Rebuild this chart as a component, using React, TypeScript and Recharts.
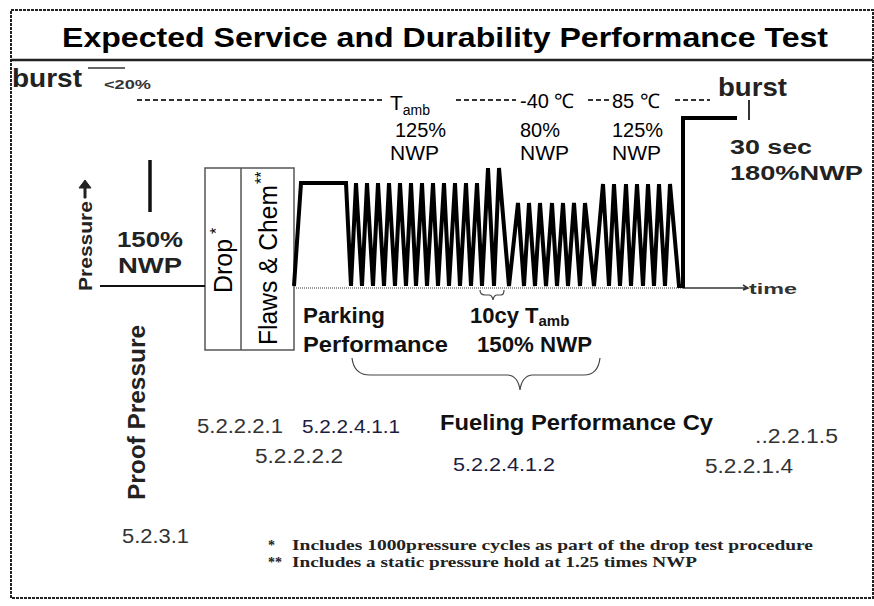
import { Customized, Line, LineChart, ReferenceArea, ReferenceLine, XAxis, YAxis } from "recharts";

const SANS = "'Liberation Sans', Arial, sans-serif";
const SERIF = "'Liberation Serif', 'Times New Roman', serif";

// pressure trace in drawing units: t = time, p = height above the zero-pressure line
const proofLine = [{ t: 100, p: 0 }, { t: 205, p: 0 }];
const parkingHold = [{ t: 294, p: 0 }, { t: 301, p: 103 }, { t: 346, p: 103 }];
const peaksAmb125 = [356, 367, 378, 389, 400, 411, 422, 433, 444, 455, 466, 477];
const peaksAmb150 = [488, 499];
const peaksCold80 = [518, 529, 540, 552, 563, 574, 585];
const peaksHot125 = [603, 614, 626, 637, 648, 659, 670];
const valleys = [351, 362, 373, 384, 395, 406, 416, 427, 438, 449, 460, 471, 482, 494, 509,
  524, 535, 546, 557, 568, 580, 594, 609, 620, 631, 643, 654, 665, 679];
const burstHold = [{ t: 683, p: 0 }, { t: 683, p: 168 }, { t: 737, p: 168 }];

const level125 = 103;
const level150 = 118;
const level80 = 83;
const levelHot = 102;

const cycleTrace = [
  ...parkingHold,
  ...peaksAmb125.map(t => ({ t, p: level125 })),
  ...peaksAmb150.map(t => ({ t, p: level150 })),
  ...peaksCold80.map(t => ({ t, p: level80 })),
  ...peaksHot125.map(t => ({ t, p: levelHot })),
  ...valleys.map(t => ({ t, p: 0 })),
  ...burstHold,
].sort((a, b) => a.t - b.t);

function Txt(props: any) {
  const { x, y, size = 20, bold = false, rot = false, fill = "#000", font = SANS, children, ...rest } = props;
  return (
    <text
      x={x}
      y={y}
      fontSize={size}
      fontFamily={font}
      fontWeight={bold ? "bold" : "normal"}
      fill={fill}
      transform={rot ? `rotate(-90 ${x} ${y})` : undefined}
      {...rest}
    >
      {children}
    </text>
  );
}

function Annotations() {
  return (
    <g>
      <Txt x={62} y={47} size={28} bold textLength={766} lengthAdjust="spacingAndGlyphs">
        Expected Service and Durability Performance Test
      </Txt>

      <Txt x={12} y={87} size={25} bold fill="#222" textLength={70} lengthAdjust="spacingAndGlyphs">burst</Txt>
      <Txt x={104} y={89} size={13} bold fill="#333" textLength={47} lengthAdjust="spacingAndGlyphs">&lt;20%</Txt>

      <Txt x={390} y={110} size={21}>T<tspan fontSize={14} dy={5}>amb</tspan></Txt>
      <Txt x={395} y={137} size={20}>125%</Txt>
      <Txt x={390} y={160} size={21}>NWP</Txt>
      <Txt x={520} y={108} size={20}>-40 ℃</Txt>
      <Txt x={520} y={137} size={20}>80%</Txt>
      <Txt x={520} y={160} size={21}>NWP</Txt>
      <Txt x={612} y={108} size={20}>85 ℃</Txt>
      <Txt x={612} y={137} size={20}>125%</Txt>
      <Txt x={612} y={160} size={21}>NWP</Txt>
      <Txt x={718} y={96} size={25} bold fill="#222" textLength={69} lengthAdjust="spacingAndGlyphs">burst</Txt>
      <Txt x={730} y={154} size={20} bold fill="#222" textLength={82} lengthAdjust="spacingAndGlyphs">30 sec</Txt>
      <Txt x={730} y={180} size={20} bold fill="#222" textLength={133} lengthAdjust="spacingAndGlyphs">180%NWP</Txt>

      <Txt x={92} y={291} size={19} bold rot fill="#222" textLength={90} lengthAdjust="spacingAndGlyphs">Pressure</Txt>
      <path d="M84,198 L84,188 L79,188 L85,180 L91,188 L86,188 L86,198 Z" fill="#222" stroke="#222" strokeWidth={1} />
      <Txt x={117} y={247} size={22} bold fill="#222" textLength={66} lengthAdjust="spacingAndGlyphs">150%</Txt>
      <Txt x={118} y={273} size={22} bold fill="#222" textLength={64} lengthAdjust="spacingAndGlyphs">NWP</Txt>

      <Txt x={232} y={293} size={25} rot textLength={54} lengthAdjust="spacingAndGlyphs">Drop</Txt>
      <Txt x={222} y={234} size={16} rot>*</Txt>
      <Txt x={277} y={345} size={25} rot textLength={160} lengthAdjust="spacingAndGlyphs">Flaws &amp; Chem</Txt>
      <Txt x={267} y={184} size={16} rot>**</Txt>

      <Txt x={145} y={500} size={24} bold rot fill="#222" textLength={175} lengthAdjust="spacingAndGlyphs">Proof Pressure</Txt>

      <Txt x={303} y={323} size={22} bold fill="#111" textLength={82} lengthAdjust="spacingAndGlyphs">Parking</Txt>
      <Txt x={303} y={352} size={22} bold fill="#111" textLength={145} lengthAdjust="spacingAndGlyphs">Performance</Txt>
      <Txt x={470} y={323} size={22} bold fill="#111">10cy T<tspan fontSize={15} dy={3}>amb</tspan></Txt>
      <Txt x={477} y={352} size={22} bold fill="#111" textLength={115} lengthAdjust="spacingAndGlyphs">150% NWP</Txt>

      <Txt x={440} y={430} size={22} bold fill="#111" textLength={273} lengthAdjust="spacingAndGlyphs">Fueling Performance Cy</Txt>

      <Txt x={197} y={433} size={20} fill="#333" textLength={86} lengthAdjust="spacingAndGlyphs">5.2.2.2.1</Txt>
      <Txt x={302} y={433} size={19} fill="#1c1c40" textLength={98} lengthAdjust="spacingAndGlyphs">5.2.2.4.1.1</Txt>
      <Txt x={255} y={463} size={20} fill="#333" textLength={88} lengthAdjust="spacingAndGlyphs">5.2.2.2.2</Txt>
      <Txt x={453} y={471} size={19} fill="#1c1c40" textLength={102} lengthAdjust="spacingAndGlyphs">5.2.2.4.1.2</Txt>
      <Txt x={755} y={443} size={20} fill="#333" textLength={83} lengthAdjust="spacingAndGlyphs">..2.2.1.5</Txt>
      <Txt x={705} y={473} size={20} fill="#333" textLength={88} lengthAdjust="spacingAndGlyphs">5.2.2.1.4</Txt>
      <Txt x={122} y={543} size={20} fill="#333" textLength={67} lengthAdjust="spacingAndGlyphs">5.2.3.1</Txt>

      <Txt x={268} y={550} size={14} bold font={SERIF} fill="#222">*</Txt>
      <Txt x={292} y={550} size={14} bold font={SERIF} fill="#222" textLength={521} lengthAdjust="spacingAndGlyphs">
        Includes 1000pressure cycles as part of the drop test procedure
      </Txt>
      <Txt x={268} y={567} size={14} bold font={SERIF} fill="#222">**</Txt>
      <Txt x={292} y={567} size={14} bold font={SERIF} fill="#222" textLength={405} lengthAdjust="spacingAndGlyphs">
        Includes a static pressure hold at 1.25 times NWP
      </Txt>

      <Txt x={749} y={294} size={14} bold fill="#333" textLength={48} lengthAdjust="spacingAndGlyphs">time</Txt>
      <path d="M738,288 L747,288 M743,285 L748,288 L743,290" stroke="#333" strokeWidth={1.5} fill="none" />

      <path d="M480,290 Q480,295 485,295 L489,295 Q492,295 493,300 Q494,295 497,295 L501,295 Q504,295 504,290"
        stroke="#444" strokeWidth={1.2} fill="none" />
      <path d="M352,358 Q354,375 370,375 L508,375 Q518,376 520,390 Q522,376 532,375 L584,375 Q598,375 600,358"
        stroke="#444" strokeWidth={1.2} fill="none" />
    </g>
  );
}

export default function App() {
  return (
    <div style={{ position: "absolute", left: 0, top: 0, width: 874, height: 606, background: "#fff" }}>
      <LineChart width={874} height={606} margin={{ top: 0, right: 0, bottom: 0, left: 0 }}>
        <XAxis type="number" dataKey="t" domain={[0, 874]} hide />
        <YAxis type="number" domain={[-320, 286]} hide />

        <ReferenceArea x1={11} x2={873} y1={-312} y2={276} fill="none" stroke="#222" strokeWidth={2} strokeDasharray="3 1" />
        <ReferenceLine segment={[{ x: 11, y: 226 }, { x: 873, y: 226 }]} stroke="#222" strokeWidth={2.5} />

        <ReferenceLine segment={[{ x: 137, y: 186 }, { x: 385, y: 186 }]} stroke="#333" strokeWidth={2} strokeDasharray="5 3" />
        <ReferenceLine segment={[{ x: 456, y: 186 }, { x: 516, y: 186 }]} stroke="#333" strokeWidth={2} strokeDasharray="5 3" />
        <ReferenceLine segment={[{ x: 588, y: 186 }, { x: 610, y: 186 }]} stroke="#333" strokeWidth={2} strokeDasharray="5 3" />
        <ReferenceLine segment={[{ x: 675, y: 186 }, { x: 710, y: 186 }]} stroke="#333" strokeWidth={2} strokeDasharray="5 3" />
        <ReferenceLine segment={[{ x: 88, y: 218 }, { x: 125, y: 218 }]} stroke="#333" strokeWidth={1.5} />
        <ReferenceLine segment={[{ x: 749, y: 186 }, { x: 749, y: 166 }]} stroke="#333" strokeWidth={2} />

        <ReferenceLine segment={[{ x: 150, y: 74 }, { x: 150, y: 126 }]} stroke="#111" strokeWidth={3.5} />
        <ReferenceLine segment={[{ x: 294, y: -2 }, { x: 683, y: -2 }]} stroke="#777" strokeWidth={1.5} strokeDasharray="1 1" />
        <ReferenceLine segment={[{ x: 683, y: -2 }, { x: 738, y: -2 }]} stroke="#333" strokeWidth={1.5} />

        <ReferenceArea x1={205} x2={294} y1={-64} y2={118} fill="none" stroke="#555" strokeWidth={1.5} />
        <ReferenceLine segment={[{ x: 241, y: -64 }, { x: 241, y: 118 }]} stroke="#555" strokeWidth={1.5} />

        <Line data={proofLine} dataKey="p" type="linear" stroke="#111" strokeWidth={2} dot={false} activeDot={false} isAnimationActive={false} />
        <Line data={cycleTrace} dataKey="p" type="linear" stroke="#000" strokeWidth={4} dot={false} activeDot={false} isAnimationActive={false} />

        <Customized component={Annotations} />
      </LineChart>
    </div>
  );
}
